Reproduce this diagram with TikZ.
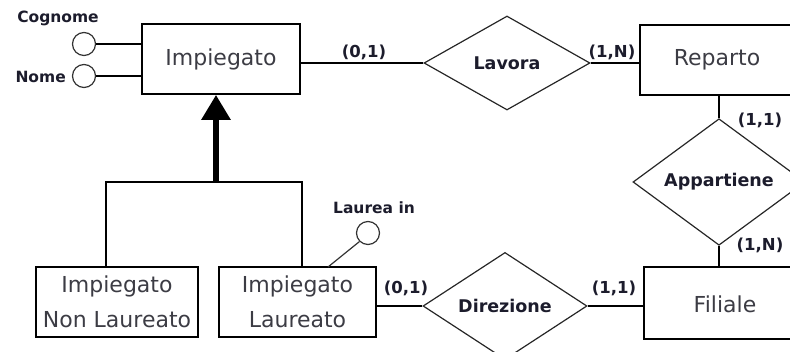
\documentclass[tikz,border=0pt]{standalone}
\usepackage{fontspec}
\setmainfont{DejaVu Sans}
\usetikzlibrary{shapes.geometric,arrows.meta}
\definecolor{enttext}{HTML}{3C3C44}
\definecolor{labtext}{HTML}{1C1C2C}
\tikzset{
  entity/.style={draw=black,line width=1.8pt,rectangle,inner sep=0pt,text=enttext,
    font=\fontsize{22}{35}\selectfont,align=center},
  relation/.style={draw=black!85,line width=1.2pt,diamond,inner sep=0pt,text=labtext,
    font=\fontsize{17.5}{20}\selectfont\bfseries},
  attr/.style={draw=black!80,line width=1.2pt,circle,minimum size=23pt,inner sep=0pt},
  attrlab/.style={text=labtext,font=\fontsize{15.5}{18}\selectfont\bfseries,inner sep=0pt},
  card/.style={text=labtext,font=\fontsize{16.5}{18}\selectfont\bfseries,inner sep=0pt},
  conn/.style={draw=black,line width=1.5pt},
}
\begin{document}
\begin{tikzpicture}[x=1pt,y=-1pt]
\useasboundingbox (0,0) rectangle (790,351);
\clip (0,0) rectangle (790,351);
% entities
\node[entity,minimum width=158pt,minimum height=70pt] (imp) at (221,59) {Impiegato};
\node[entity,minimum width=158pt,minimum height=70pt,anchor=north west] (rep) at (639,24) {};
\node[text=enttext,font=\fontsize{22}{35}\selectfont] (reptext) at (717,60) {Reparto};
\node[entity,minimum width=158pt,minimum height=72pt,anchor=north west] (fil) at (643,266) {};
\node[text=enttext,font=\fontsize{22}{35}\selectfont] (filtext) at (725,304) {Filiale};
\node[entity,minimum width=162pt,minimum height=70pt] (nl) at (117,302) {Impiegato\\Non Laureato};
\node[entity,minimum width=157pt,minimum height=70pt] (il) at (297.5,302) {Impiegato\\Laureato};
% relationships
\node[relation,minimum width=166pt,minimum height=94pt] (lav) at (507,63) {Lavora};
\node[relation,minimum width=172pt,minimum height=92pt] (app) at (719,182) {Appartiene};
\node[relation,minimum width=164pt,minimum height=96pt] (dir) at (505,306) {Direzione};
% attributes
\node[attr] (cog) at (84,44) {};
\node[attr] (nom) at (84,76) {};
\node[attr] (lau) at (368,233) {};
\node[attrlab] (coglab) at (58,18) {Cognome};
\node[attrlab,anchor=east] (nomlab) at (66,77) {Nome};
\node[attrlab] (laulab) at (374,208) {Laurea in};
% attribute links
\draw[conn] (cog.east) -- (cog.east -| imp.west);
\draw[conn] (nom.east) -- (nom.east -| imp.west);
\coordinate (laufoot) at (328,267);
\draw[conn,line width=1.2pt,draw=black!80] (lau.225) -- (laufoot);
% relationship links
\draw[conn] (lav.west) -- (lav.west -| imp.east);
\draw[conn] (lav.east) -- (lav.east -| rep.west);
\draw[conn] (app.north) -- (app.north |- rep.south);
\draw[conn] (app.south) -- (app.south |- fil.north);
\draw[conn] (dir.west) -- (dir.west -| il.east);
\draw[conn] (dir.east) -- (dir.east -| fil.west);
% generalization
\coordinate (gen) at (216,182);
\coordinate (genl) at (106,182);
\coordinate (genr) at (302,182);
\draw[conn] (nl.north -| genl) -- (genl) -- (genr) -- (il.north -| genr);
\draw[line width=6pt,-{Triangle[width=28pt,length=25pt]}] (gen) -- (imp.south -| gen);
% cardinalities
\node[card] (c1) at (364,52) {(0,1)};
\node[card] (c2) at (612,52) {(1,N)};
\node[card] (c3) at (760,120) {(1,1)};
\node[card] (c4) at (760,245) {(1,N)};
\node[card] (c5) at (406,288) {(0,1)};
\node[card] (c6) at (614,288) {(1,1)};
\end{tikzpicture}
\end{document}
